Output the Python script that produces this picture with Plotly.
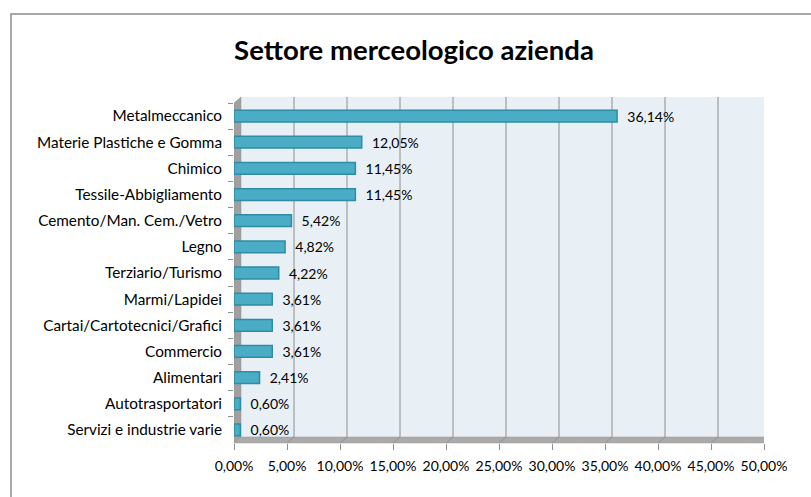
import plotly.graph_objects as go

categories = [
    "Metalmeccanico",
    "Materie Plastiche e Gomma",
    "Chimico",
    "Tessile-Abbigliamento",
    "Cemento/Man. Cem./Vetro",
    "Legno",
    "Terziario/Turismo",
    "Marmi/Lapidei",
    "Cartai/Cartotecnici/Grafici",
    "Commercio",
    "Alimentari",
    "Autotrasportatori",
    "Servizi e industrie varie",
]
values = [36.14, 12.05, 11.45, 11.45, 5.42, 4.82, 4.22, 3.61, 3.61, 3.61, 2.41, 0.60, 0.60]
x_ticks = [0, 5, 10, 15, 20, 25, 30, 35, 40, 45, 50]
x_tick_labels = [f"{t:.2f}%".replace(".", ",") for t in x_ticks]
title_text = "Settore merceologico azienda"

W, H = 811, 497
L, R = 234, 764          # pixel x of 0% and 50% (front)
T, B = 103, 443          # pixel y of plot top / floor (front)
pw, ph = R - L, B - T
xmax = 50
dx = 7 * xmax / pw       # 3D depth offset in data units
dy = 6 / ph              # 3D depth offset in paper units

FONT = "Lato"

fig = go.Figure()
fig.add_trace(go.Bar(
    y=categories,
    x=values,
    orientation="h",
    marker=dict(color="#4BACC6", line=dict(color="#2E8CA6", width=1.5)),
    texttemplate="\u00a0\u00a0%{x:.2f}%",
    textposition="outside",
    constraintext="none",
    textfont=dict(family=FONT, size=14, color="#000000"),
    cliponaxis=False,
    width=0.45,
    hoverinfo="skip",
))

shapes = []
# outer chart border (left and top edges visible)
shapes.append(dict(type="rect", xref="paper", yref="paper",
                   x0=(11 - L) / pw, x1=(W + 60 - L) / pw,
                   y0=(B - (H + 60)) / ph, y1=(B - 14) / ph,
                   line=dict(color="#8C8C8C", width=1.5), fillcolor="rgba(0,0,0,0)",
                   layer="below"))
# back wall
shapes.append(dict(type="rect", xref="x", yref="paper",
                   x0=dx, x1=xmax + dx, y0=dy, y1=1 + dy,
                   fillcolor="#E8EFF5", line=dict(width=0), layer="below"))
# gridlines on back wall
for t in x_ticks[1:]:
    shapes.append(dict(type="line", xref="x", yref="paper",
                       x0=t + dx, x1=t + dx, y0=dy, y1=1 + dy,
                       line=dict(color="#8E8E8E", width=1), layer="below"))
# floor
shapes.append(dict(type="path", xref="x", yref="paper",
                   path=f"M 0 0 L {xmax} 0 L {xmax + dx} {dy} L {dx} {dy} Z",
                   fillcolor="#ABABAB", line=dict(color="#9A9A9A", width=0.5), layer="below"))
# floor joints at gridlines
for t in x_ticks[1:]:
    shapes.append(dict(type="line", xref="x", yref="paper",
                       x0=t, x1=t + dx, y0=0, y1=dy,
                       line=dict(color="#8E8E8E", width=1), layer="below"))
# left wall
shapes.append(dict(type="path", xref="x", yref="paper",
                   path=f"M 0 0 L 0 1 L {dx} {1 + dy} L {dx} {dy} Z",
                   fillcolor="#A0A0A0", line=dict(color="#909090", width=0.5), layer="below"))

fig.update_layout(
    width=W, height=H,
    margin=dict(l=L, r=W - R, t=T, b=H - B, pad=0),
    paper_bgcolor="white",
    plot_bgcolor="rgba(0,0,0,0)",
    separators=",.",
    showlegend=False,
    bargap=0.55,
    title=dict(text=title_text, x=414 / W, xanchor="center",
               y=1 - 50 / H, yanchor="middle",
               font=dict(family=FONT, size=27.5, color="#000000", weight="bold")),
    font=dict(family=FONT, size=14, color="#000000"),
    shapes=shapes,
    xaxis=dict(range=[0, xmax], tickvals=x_ticks, ticktext=x_tick_labels,
               showgrid=False, zeroline=False, showline=False,
               ticks="outside", ticklen=6, tickcolor="#8E8E8E",
               ticklabelstandoff=4,
               tickfont=dict(family=FONT, size=14, color="#000000")),
    yaxis=dict(categoryorder="array", categoryarray=categories, autorange="reversed",
               showgrid=False, zeroline=False, showline=False,
               ticks="outside", ticklen=5, tickcolor="#8E8E8E", tickson="boundaries",
               ticklabelstandoff=11,
               tickfont=dict(family=FONT, size=15.3, color="#000000")),
)

fig.write_html("out.html",
               config={"displayModeBar": False},
               post_script="document.body.style.margin='0';document.body.style.overflow='hidden';")
